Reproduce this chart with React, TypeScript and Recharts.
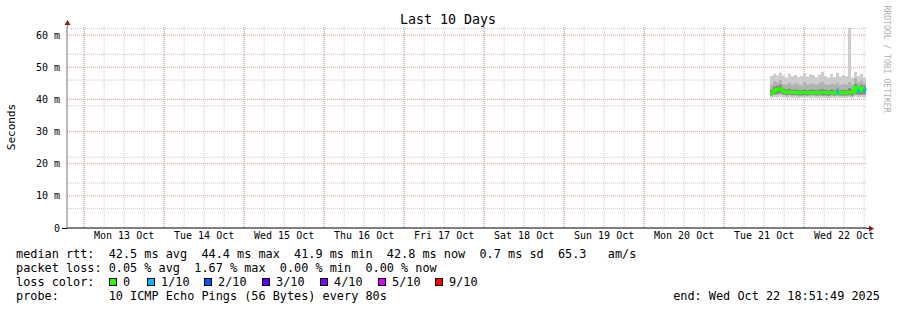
import { ComposedChart, Area, Line, XAxis, YAxis, CartesianGrid } from "recharts"

// hours since start of graph (Sun Oct 12 18:51:49)
const hours = [
  210.9, 211.8, 212.7, 213.6, 214.5, 215.4, 216.3, 217.2, 218.1, 219.0, 219.9,
  220.8, 221.7, 222.6, 223.5, 224.4, 225.3, 226.2, 227.1, 228.0, 228.9, 229.8,
  230.7, 231.6, 232.5, 233.4, 234.3, 235.2, 236.1, 237.0, 237.9, 238.8, 239.7,
]
const pingMax = [
  47.3, 48.0, 47.5, 48.3, 47.4, 46.8, 48.0, 47.2, 47.6, 46.9, 47.3,
  48.2, 47.0, 47.8, 47.5, 46.9, 47.7, 48.6, 47.2, 46.8, 47.8, 46.9,
  48.3, 47.0, 47.6, 47.2, 62.2, 46.8, 48.6, 47.2, 47.9, 46.8, 47.3,
]
const pingHigh = [
  44.5, 45.6, 45.3, 46.0, 44.8, 44.6, 45.2, 44.5, 45.0, 44.6, 44.3,
  45.4, 44.6, 44.8, 44.9, 44.4, 45.1, 45.5, 44.7, 44.5, 44.9, 44.6,
  45.2, 44.4, 44.8, 44.6, 45.5, 44.6, 46.5, 45.3, 45.9, 45.1, 44.8,
]
const pingUpper = [
  43.0, 44.0, 44.2, 44.6, 43.4, 43.2, 43.3, 43.0, 43.1, 42.9, 42.8,
  43.1, 42.9, 43.0, 43.1, 42.8, 43.0, 43.2, 43.0, 42.8, 43.1, 42.9,
  43.3, 42.9, 43.0, 42.9, 43.5, 43.0, 44.8, 44.0, 44.5, 44.2, 43.6,
]
const pingLower = [
  41.2, 41.5, 41.6, 41.8, 41.5, 41.3, 41.4, 41.3, 41.3, 41.2, 41.2,
  41.3, 41.2, 41.3, 41.3, 41.2, 41.3, 41.2, 41.2, 41.1, 41.3, 41.2,
  41.3, 41.2, 41.2, 41.2, 41.3, 41.2, 41.6, 41.4, 41.5, 41.5, 41.3,
]
const pingMin = [
  40.5, 40.7, 40.6, 40.8, 40.6, 40.5, 40.6, 40.5, 40.6, 40.4, 40.5,
  40.6, 40.5, 40.5, 40.6, 40.4, 40.5, 40.6, 40.5, 40.4, 40.5, 40.5,
  40.6, 40.4, 40.5, 40.5, 40.6, 40.4, 40.8, 40.6, 40.7, 40.6, 40.5,
]
const median = [
  41.9, 42.6, 43.1, 43.3, 42.5, 42.2, 42.3, 42.1, 42.2, 42.0, 42.1,
  42.2, 42.1, 42.0, 42.1, 42.0, 42.1, 42.2, 42.1, 42.0, 42.1, 42.0,
  42.3, 42.0, 42.1, 42.0, 42.2, 42.1, 43.7, 42.6, 43.5, 42.9, 42.8,
]
// lost pings out of 10
const loss = [
  0, 0, 0, 0, 0, 0, 0, 0, 0, 0, 0,
  0, 0, 0, 0, 0, 0, 0, 0, 0, 0, 0,
  1, 0, 0, 0, 0, 0, 0, 1, 0, 1, 0,
]

const dayLabels = [
  "Mon 13 Oct", "Tue 14 Oct", "Wed 15 Oct", "Thu 16 Oct", "Fri 17 Oct",
  "Sat 18 Oct", "Sun 19 Oct", "Mon 20 Oct", "Tue 21 Oct", "Wed 22 Oct",
]
const firstMidnight = 5.136 // hours from start to Mon 13 Oct 00:00
const yTicks = [0, 10, 20, 30, 40, 50, 60]

const lossLabels = ["0", "1/10", "2/10", "3/10", "4/10", "5/10", "9/10"]
const lossColors = ["#26ff00", "#00b8ff", "#0059ff", "#5e00ff", "#7e00ff", "#dd00ff", "#ff0000"]

const W = 897
const H = 310
const FONT = "'DejaVu Sans Mono', monospace"
const LEGEND_SIZE = 11.85

const data = hours.map((h, i) => ({
  h,
  outer: [pingMin[i], pingMax[i]],
  mid: [pingLower[i], pingHigh[i]],
  inner: [pingLower[i], pingUpper[i]],
  median: median[i],
  loss: loss[i],
}))

const labelTicks = dayLabels.map((_, i) => firstMidnight + 12 + 24 * i)
const majorV = dayLabels.map((_, i) => firstMidnight + 24 * i)
const minorV: number[] = []
for (let t = firstMidnight; t < 240; t += 6) minorV.push(t)
const minorH: number[] = []
for (let v = 2; v <= 62; v += 2) minorH.push(v)

const LossDot = (props: any) => {
  const { cx, cy, payload, index } = props
  if (!payload || !payload.loss) return <g key={`d${index}`} />
  return <rect key={`d${index}`} x={cx} y={cy - 1.5} width={3} height={3} fill={lossColors[payload.loss]} />
}

const legendRow = (top: number, text: string) => (
  <div style={{ position: "absolute", left: 16, top, fontSize: LEGEND_SIZE, lineHeight: "14px", whiteSpace: "pre" }}>{text}</div>
)

const lossPos = [109, 147, 204, 262, 320, 378, 435]

export default function App() {
  return (
    <div style={{ position: "absolute", left: 0, top: 0, width: W, height: H, background: "#fff", fontFamily: FONT, color: "#000", overflow: "hidden" }}>
      <ComposedChart width={W} height={H} data={data} margin={{ top: 27, right: 30, bottom: 62, left: 0 }}>
        <CartesianGrid stroke="#c8c8c8" strokeDasharray="1 1" horizontalValues={minorH} verticalValues={minorV} />
        <CartesianGrid stroke="#e09a9a" strokeDasharray="1 1" horizontalValues={yTicks.slice(1)} verticalValues={majorV} />
        <XAxis
          dataKey="h"
          type="number"
          domain={[0, 240]}
          ticks={labelTicks}
          tickFormatter={(_v: number, i: number) => dayLabels[i]}
          interval={0}
          height={20}
          tickLine={false}
          tickSize={0}
          tickMargin={4}
          axisLine={{ stroke: "#000" }}
          tick={{ fontSize: 10, fill: "#000", fontFamily: FONT }}
          allowDataOverflow
        />
        <YAxis
          type="number"
          domain={[0, 62.5]}
          ticks={yTicks}
          tickFormatter={(v: number) => (v === 0 ? "0" : `${v} m`)}
          width={67}
          tickLine={false}
          tickSize={0}
          tickMargin={7}
          axisLine={{ stroke: "#777" }}
          tick={{ fontSize: 10, fill: "#000", fontFamily: FONT }}
          allowDataOverflow
        />
        <Area dataKey="outer" type="stepAfter" stroke="none" fill="#cdcdcd" fillOpacity={1} isAnimationActive={false} />
        <Area dataKey="mid" type="stepAfter" stroke="none" fill="#b2b2b2" fillOpacity={1} isAnimationActive={false} />
        <Area dataKey="inner" type="stepAfter" stroke="none" fill="#878787" fillOpacity={1} isAnimationActive={false} />
        <Line dataKey="median" type="stepAfter" stroke="#26ff00" strokeWidth={3} dot={LossDot} activeDot={false} isAnimationActive={false} />
      </ComposedChart>

      <svg width={W} height={H} style={{ position: "absolute", left: 0, top: 0, pointerEvents: "none" }}>
        <line x1={67.5} y1={22} x2={67.5} y2={27} stroke="#777" />
        <line x1={62} y1={228.5} x2={67} y2={228.5} stroke="#000" />
        <line x1={867} y1={228.5} x2={870} y2={228.5} stroke="#000" />
        <polygon points="64.5,25 70.5,25 67.5,20" fill="#8b1a1a" />
        <polygon points="869,225.5 869,231.5 874,228.5" fill="#8b1a1a" />
        <text x={448} y={24} textAnchor="middle" fontSize={13.3} fontFamily={FONT} fill="#000">Last 10 Days</text>
        <text x={15} y={127} textAnchor="middle" fontSize={11} fontFamily={FONT} fill="#000" transform="rotate(-90 15 127)">Seconds</text>
        <text x={884} y={59} textAnchor="middle" fontSize={8.1} fontFamily={FONT} fill="#b0b0b0" transform="rotate(90 884 59)">RRDTOOL / TOBI OETIKER</text>
      </svg>

      {legendRow(247, "median rtt:  42.5 ms avg  44.4 ms max  41.9 ms min  42.8 ms now  0.7 ms sd  65.3   am/s")}
      {legendRow(261, "packet loss: 0.05 % avg  1.67 % max  0.00 % min  0.00 % now")}
      {legendRow(275, "loss color:")}
      {lossLabels.map((l, i) => (
        <div key={l} style={{ position: "absolute", left: lossPos[i], top: 278, height: 14 }}>
          <div style={{ position: "absolute", left: 0, top: 0, width: 6, height: 6, border: "1px solid #000", background: lossColors[i] }} />
          <div style={{ position: "absolute", left: 14, top: -3, fontSize: LEGEND_SIZE, lineHeight: "14px", whiteSpace: "pre" }}>{l}</div>
        </div>
      ))}
      {legendRow(289, "probe:       10 ICMP Echo Pings (56 Bytes) every 80s")}
      <div style={{ position: "absolute", right: 17, top: 289, fontSize: LEGEND_SIZE, lineHeight: "14px", whiteSpace: "pre" }}>end: Wed Oct 22 18:51:49 2025</div>
    </div>
  )
}
